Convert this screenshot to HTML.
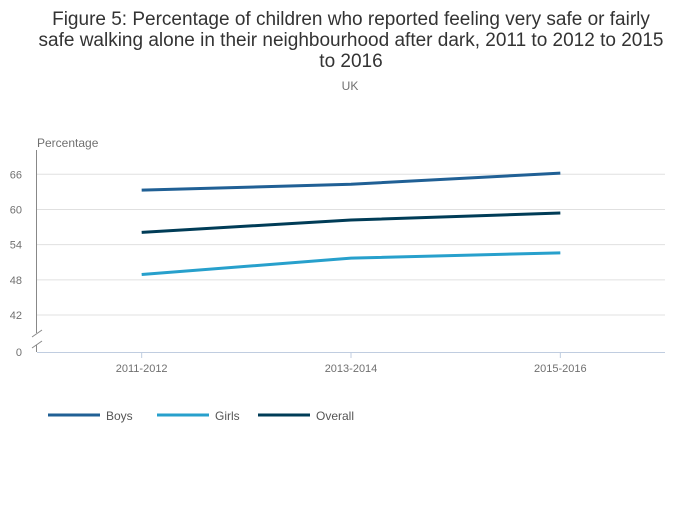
<!DOCTYPE html>
<html><head><meta charset="utf-8"><style>
body{margin:0;background:#fff;font-family:"Liberation Sans",sans-serif;}
svg text{font-family:"Liberation Sans",sans-serif;}
</style></head><body>
<svg width="700" height="502">
<text x="351" y="25" text-anchor="middle" font-size="19" fill="#333">Figure 5: Percentage of children who reported feeling very safe or fairly</text>
<text x="351" y="46" text-anchor="middle" font-size="19" fill="#333">safe walking alone in their neighbourhood after dark, 2011 to 2012 to 2015</text>
<text x="351" y="67" text-anchor="middle" font-size="19" fill="#333">to 2016</text>
<text x="350" y="90" text-anchor="middle" font-size="12" fill="#707070">UK</text>
<text x="37" y="147" font-size="12" fill="#707070">Percentage</text>
<g id="grid"></g>
<g id="axes"></g>
<g id="series"></g>
<g id="legend"></g>
</svg>
<script>
const categories=["2011-2012","2013-2014","2015-2016"];
const seriesNames=["Boys","Girls","Overall"];
const boys=[63.3,64.3,66.2];
const girls=[48.9,51.7,52.6];
const overall=[56.1,58.2,59.4];
const yTicks=[42,48,54,60,66];
const colors=["#206095","#27a0cc","#003c57"];
const NS="http://www.w3.org/2000/svg";
const x0=37,x1=665;
function xs(i){return x0+(x1-x0)/categories.length*(i+0.5);}
function ys(v){return 315-(v-42)*(315-174.3)/24;}
function mk(t,a,p){const e=document.createElementNS(NS,t);for(const k in a)e.setAttribute(k,a[k]);p.appendChild(e);return e;}
const grid=document.getElementById('grid'),axes=document.getElementById('axes'),ser=document.getElementById('series'),leg=document.getElementById('legend');
yTicks.forEach(v=>{
 const l=mk('line',{x1:x0,x2:x1,y1:ys(v),y2:ys(v),stroke:'#e0e0e0','stroke-width':1},grid);
 
 
 const t=mk('text',{x:22,y:ys(v)+4,'font-size':11,fill:'#707070','text-anchor':'end'},axes);
 t.textContent=v;
 
 
});
const z=mk('text',{x:22,y:356,'font-size':11,fill:'#707070','text-anchor':'end'},axes);z.textContent='0';


const ya=mk('path',{d:'M36.5 150V333M36.5 345V352',stroke:'#888','stroke-width':1,fill:'none'},axes);


const br=mk('path',{d:'M32 337L42 330M32 348L42 341',stroke:'#888','stroke-width':1,fill:'none'},axes);


const xa=mk('line',{x1:x0,x2:x1,y1:352.5,y2:352.5,stroke:'#c0cde0','stroke-width':1},axes);


categories.forEach((c,i)=>{
 mk('line',{x1:xs(i),x2:xs(i),y1:352,y2:358,stroke:'#c0cde0'},axes);
 const t=mk('text',{x:xs(i),y:372,'font-size':11,fill:'#707070','text-anchor':'middle'},axes);
 t.textContent=c;
 
 
});
[boys,girls,overall].forEach((d,s)=>{
 const p=mk('polyline',{points:d.map((v,i)=>xs(i)+','+ys(v)).join(' '),fill:'none',stroke:colors[s],'stroke-width':3},ser);
 
 
});
const lx=[48,157,258];
seriesNames.forEach((n,s)=>{
 const g=mk('g',{},leg);
 
 
 mk('line',{x1:lx[s],x2:lx[s]+52,y1:415,y2:415,stroke:colors[s],'stroke-width':3},g);
 const t=mk('text',{x:lx[s]+58,y:420,'font-size':12,fill:'#555'},g);t.textContent=n;
});
</script>
</body></html>
